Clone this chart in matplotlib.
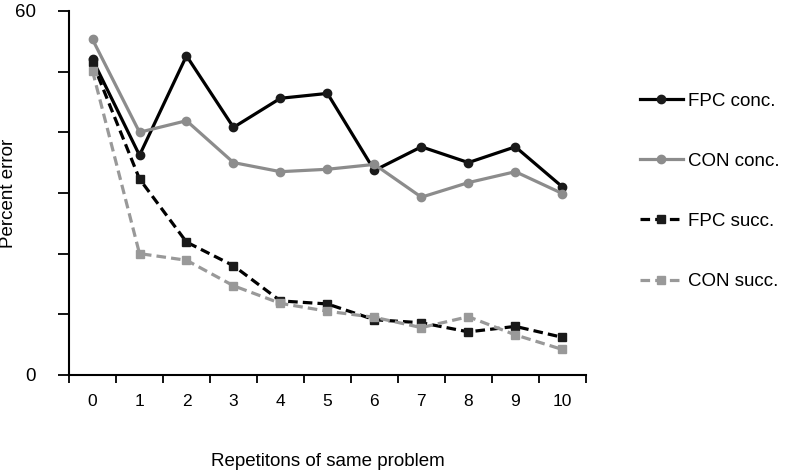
import matplotlib.pyplot as plt
import numpy as np

plt.rcParams['font.family'] = ['Liberation Sans', 'DejaVu Sans']

# repetition index
reps = list(range(11))

# percent error per series
fpc_conc = [52.0, 36.2, 52.6, 40.8, 45.6, 46.4, 33.7, 37.6, 35.0, 37.6, 31.0]
con_conc = [55.3, 40.0, 41.9, 35.0, 33.5, 33.9, 34.7, 29.3, 31.7, 33.5, 29.9]
fpc_succ = [51.5, 32.3, 21.9, 18.0, 12.2, 11.7, 9.1, 8.6, 7.1, 8.0, 6.2]
con_succ = [50.1, 20.0, 18.9, 14.7, 11.8, 10.5, 9.5, 7.8, 9.6, 6.6, 4.2]

y_ticks = [0, 10, 20, 30, 40, 50, 60]
y_labels = ['0', '', '', '', '', '', '60']

black = '#000000'
grey = '#8c8c8c'
grey2 = '#999999'
fs = 13.5

fig = plt.figure(figsize=(7.89, 4.74), dpi=100)
ax = fig.add_axes([0.0875, 0.209, 0.655, 0.768])

ax.plot(reps, fpc_conc, color=black, lw=2.3, marker='o', ms=6,
        mfc='#1a1a1a', mec='#1a1a1a', label='FPC conc.')
ax.plot(reps, con_conc, color=grey, lw=2.3, marker='o', ms=6,
        mfc=grey, mec=grey, label='CON conc.')
ax.plot(reps, fpc_succ, color=black, lw=2.3, ls=(0, (3, 1.6)), marker='s', ms=6,
        mfc='#1a1a1a', mec='#1a1a1a', label='FPC succ.')
ax.plot(reps, con_succ, color=grey2, lw=2.3, ls=(0, (3, 1.6)), marker='s', ms=6,
        mfc=grey2, mec=grey2, label='CON succ.')

ax.set_xlim(-0.5, 10.5)
ax.set_ylim(0, 60)

# labels at category centres, tick marks between categories
ax.set_xticks(reps)
ax.set_xticklabels([str(r) for r in reps])
ax.set_xticks(np.arange(-0.5, 11, 1), minor=True)
ax.tick_params(axis='x', which='major', length=0, pad=14, labelsize=12.5)
ax.tick_params(axis='x', which='minor', length=6, width=1.3, direction='out')

ax.set_yticks(y_ticks)
ax.set_yticklabels(y_labels)
ax.tick_params(axis='y', length=8, width=1.3, direction='out', pad=16, labelsize=fs)

for side in ['top', 'right']:
    ax.spines[side].set_visible(False)
for side in ['left', 'bottom']:
    ax.spines[side].set_linewidth(1.5)

ax.set_xlabel('Repetitons of same problem', fontsize=fs)
ax.xaxis.set_label_coords(0.5, -0.215)
ax.set_ylabel('Percent error', fontsize=fs)
ax.yaxis.set_label_coords(-0.1, 0.5)

ax.legend(loc='upper left', bbox_to_anchor=(0.811, 0.805), bbox_transform=fig.transFigure,
          frameon=False, fontsize=fs, handlelength=2.3, labelspacing=2.3,
          handletextpad=0.27, borderpad=0, borderaxespad=0)

fig.savefig('out.png', dpi=100)
